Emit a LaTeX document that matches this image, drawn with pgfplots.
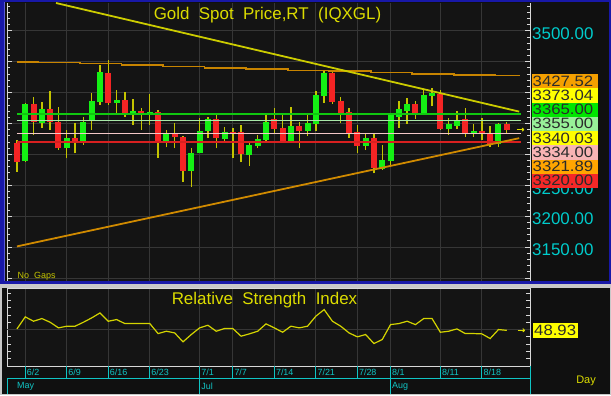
\documentclass[border=0pt]{standalone}
\usepackage{fontspec}
\setmainfont{Liberation Sans}
\usepackage{pgfplots}
\usepackage{pgfplotstable}
\pgfplotsset{compat=1.18}
\usetikzlibrary{arrows.meta}

\definecolor{bgc}{HTML}{101010}
\definecolor{plotbg}{HTML}{141414}
\definecolor{gridc}{HTML}{363636}
\definecolor{axw}{HTML}{D8D8D8}
\definecolor{wickc}{HTML}{C4C400}
\definecolor{upcol}{HTML}{14F014}
\definecolor{dncol}{HTML}{F42424}
\definecolor{hgreen}{HTML}{10C810}
\definecolor{hlgreen}{HTML}{A8E8A8}
\definecolor{hpink}{HTML}{F4C8C8}
\definecolor{hred}{HTML}{D82020}
\definecolor{trendy}{HTML}{CCCC00}
\definecolor{trendo}{HTML}{D08A00}
\definecolor{stepo}{HTML}{C88400}
\definecolor{tickcyan}{HTML}{00CCCC}
\definecolor{datecyan}{HTML}{10C4C4}
\definecolor{titley}{HTML}{DCDC00}
\definecolor{rsiy}{HTML}{D4D400}
\definecolor{frameblue}{HTML}{1818A8}
\definecolor{framelblue}{HTML}{5A5AD8}
\definecolor{bandgray}{HTML}{C8C8C8}
\definecolor{boxorange}{HTML}{F5A000}
\definecolor{boxyellow}{HTML}{FFFF00}
\definecolor{boxgreen}{HTML}{00E600}
\definecolor{boxlgreen}{HTML}{98F098}
\definecolor{boxpink}{HTML}{F8B4B4}
\definecolor{boxorangeb}{HTML}{FFA500}
\definecolor{boxred}{HTML}{F52828}
\definecolor{boxtext}{HTML}{2A2A2A}

% daily candles: index, open, high, low, close
\pgfplotstableread{
i o h l c
1 3289.3 3382.8 3288.3 3381.2
3 3351.5 3385.5 3343.4 3373.1
6 3309.8 3339.6 3293.6 3326.1
8 3320.6 3361.2 3315.2 3353.1
9 3354.1 3399.0 3339.6 3386.6
10 3385.5 3444.9 3380.1 3434.1
12 3382.8 3404.4 3363.9 3388.2
14 3367.6 3389.3 3347.7 3370.3
16 3366.6 3397.4 3347.7 3368.6
18 3320.6 3339.6 3311.5 3334.1
21 3273.1 3310.9 3247.7 3302.8
22 3301.7 3358.5 3301.7 3338.5
23 3338.0 3361.2 3326.1 3357.4
25 3325.0 3345.0 3320.6 3336.9
28 3299.0 3317.9 3281.8 3315.2
29 3313.6 3331.5 3309.8 3324.4
30 3323.4 3366.6 3320.6 3353.1
33 3322.3 3377.4 3320.6 3346.6
35 3338.0 3363.9 3330.4 3350.4
36 3349.3 3402.8 3338.0 3396.3
37 3395.2 3435.2 3382.8 3432.5
42 3314.2 3332.5 3307.1 3326.1
44 3276.4 3315.2 3274.7 3290.9
45 3289.3 3366.6 3282.9 3363.9
46 3361.2 3386.6 3343.4 3373.1
47 3370.9 3390.9 3348.8 3381.2
49 3366.6 3404.4 3363.9 3396.3
50 3395.2 3408.2 3379.0 3399.0
52 3341.2 3358.5 3331.5 3348.8
53 3346.1 3370.3 3341.2 3355.8
55 3334.7 3348.8 3328.7 3338.0
58 3316.3 3350.4 3312.5 3348.8
}\candleup

\pgfplotstableread{
i o h l c
0 3319.1 3323.4 3272.1 3288.3
2 3381.2 3393.6 3331.5 3353.1
4 3373.1 3402.8 3339.6 3353.1
5 3353.1 3377.4 3307.1 3309.8
7 3326.1 3350.4 3301.7 3320.6
11 3432.5 3453.0 3380.1 3382.8
13 3388.2 3400.6 3361.2 3366.6
15 3370.3 3374.7 3339.6 3367.1
17 3368.2 3372.0 3294.7 3320.6
19 3334.1 3350.4 3309.8 3327.7
20 3328.7 3330.0 3255.8 3273.1
24 3357.4 3366.6 3309.8 3326.1
26 3336.9 3343.4 3294.7 3334.7
27 3336.9 3347.7 3287.2 3300.1
31 3357.4 3375.8 3334.2 3341.2
32 3342.3 3366.6 3320.6 3322.3
34 3346.6 3353.1 3309.8 3338.0
38 3432.5 3436.8 3381.2 3385.5
39 3386.6 3393.6 3350.4 3367.6
40 3368.2 3374.7 3326.1 3334.1
41 3336.9 3347.7 3301.7 3314.2
43 3326.1 3332.5 3269.3 3278.5
48 3381.2 3386.6 3357.4 3366.6
51 3397.4 3404.4 3340.0 3341.2
54 3357.4 3374.7 3328.7 3332.5
56 3338.0 3358.5 3323.4 3332.5
57 3334.2 3346.1 3312.5 3316.3
59 3348.8 3353.1 3334.2 3340.0
}\candledn

\pgfplotstableread{
i r
0 50.9
1 67.4
2 61.4
3 65.1
4 60.0
5 52.3
6 54.6
7 54.6
8 60.0
9 66.0
10 72.8
11 61.4
12 63.7
13 58.2
14 58.2
15 58.2
16 58.2
17 44.5
18 47.7
19 45.4
20 33.1
21 43.2
22 52.3
23 55.9
24 47.7
25 51.4
26 51.4
27 40.9
28 44.1
29 47.7
30 57.8
31 52.3
32 46.3
33 54.6
34 52.3
35 54.6
36 68.3
37 77.4
38 61.4
39 54.6
40 45.4
41 40.0
42 43.2
43 30.8
44 36.3
45 56.8
46 58.2
47 61.4
48 56.8
49 65.1
50 65.1
51 46.3
52 47.7
53 50.9
54 44.5
55 44.5
56 44.1
57 37.7
58 50.0
59 48.9
}\rsidata

\begin{document}
\begin{tikzpicture}[x=1bp,y=1bp]
\useasboundingbox (0,0) rectangle (611,395);
\fill[bgc] (0,0) rectangle (611,395);

% ---------------- price panel ----------------
\begin{axis}[
  at={(7bp,114bp)}, anchor=south west, scale only axis,
  width=523bp, height=278bp,
  xmin=-1.2, xmax=61.8, ymin=3095, ymax=3545,
  axis background/.style={fill=plotbg},
  separate axis lines,
  x axis line style={draw=none},
  y axis line style={draw=axw, line width=0.8bp},
  xtick={1,6,11,16,22,26,31,36,41,45,51,56},
  xticklabels={}, xtick style={draw=none},
  ytick={3100,3150,...,3500},
  yticklabels={,3150.00,3200.00,3250.00,,,,,3500.00},
  minor ytick={3100,3110,...,3540},
  ytick pos=both, yticklabel pos=right, tick align=inside,
  major tick length=5bp, minor tick length=3bp,
  ytick style={draw=axw, line width=0.8bp},
  minor tick style={draw=axw, line width=0.7bp},
  yticklabel style={font=\fontsize{17}{17}\selectfont, text=tickcyan, anchor=west, inner sep=0pt, xshift=2bp, yshift=-3bp},
  xmajorgrids, ymajorgrids,
  major grid style={draw=gridc, line width=0.8bp},
]
% wicks
\addplot[draw=none, forget plot, error bars/.cd, y dir=plus, y explicit, error mark=none,
  error bar style={draw=wickc, line width=1.4bp}]
  table[x=i, y=l, y error expr=\thisrow{h}-\thisrow{l}] {\candleup};
\addplot[draw=none, forget plot, error bars/.cd, y dir=plus, y explicit, error mark=none,
  error bar style={draw=wickc, line width=1.4bp}]
  table[x=i, y=l, y error expr=\thisrow{h}-\thisrow{l}] {\candledn};
% bodies
\addplot[draw=none, forget plot, error bars/.cd, y dir=plus, y explicit, error mark=none,
  error bar style={draw=upcol, line width=6bp}]
  table[x=i, y expr={min(\thisrow{o},\thisrow{c})}, y error expr={abs(\thisrow{c}-\thisrow{o})}] {\candleup};
\addplot[draw=none, forget plot, error bars/.cd, y dir=plus, y explicit, error mark=none,
  error bar style={draw=dncol, line width=6bp}]
  table[x=i, y expr={min(\thisrow{o},\thisrow{c})}, y error expr={abs(\thisrow{c}-\thisrow{o})}] {\candledn};
% stepped long-term line
\addplot[stepo, line width=1.8bp, const plot] coordinates {
  (0,3450.0) (2.6,3448.6) (7.6,3447.0) (12.6,3444.6) (17.6,3442.1) (22.6,3439.5)
  (27.6,3437.9) (32.6,3435.7) (37.6,3434.3) (42.6,3432.6) (47.6,3430.6)
  (52.6,3428.9) (57.6,3427.5) (60.6,3427.5)};
% horizontal levels
\addplot[hgreen, line width=1.8bp] coordinates {(0,3365) (60.7,3365)};
\addplot[hlgreen, line width=1.3bp] coordinates {(0,3355) (60.7,3355)};
\addplot[hpink, line width=1.3bp] coordinates {(0,3334) (60.7,3334)};
\addplot[hred, line width=1.5bp] coordinates {(0,3320) (60.7,3320)};
% trend lines
\addplot[trendy, line width=1.8bp] coordinates {(4.7,3545) (60.5,3369.2)};
\addplot[trendo, line width=1.8bp] coordinates {(0,3151) (60.5,3326.2)};
% last price arrow
\draw[titley, line width=1bp, -{To[length=2.5bp,width=4bp]}] (axis cs:60.2,3340) -- (axis cs:61.1,3340);
\end{axis}

% ---------------- RSI panel ----------------
\begin{axis}[
  at={(7bp,29bp)}, anchor=south west, scale only axis,
  width=523bp, height=78bp,
  xmin=-1.2, xmax=61.8, ymin=0, ymax=107,
  axis background/.style={fill=plotbg},
  axis line style={draw=axw, line width=0.8bp},
  xtick={1,6,11,16,22,26,31,36,41,45,51,56},
  xticklabels={6/2,6/9,6/16,6/23,7/1,7/7,7/14,7/21,7/28,8/1,8/11,8/18},
  xtick style={draw=none},
  xticklabel style={anchor=north west, font=\fontsize{9}{9}\selectfont, text=datecyan, inner sep=1bp, yshift=-2bp, xshift=0.5bp},
  ytick={0,10,...,100}, yticklabels={},
  ytick pos=both, tick align=inside, major tick length=4bp,
  ytick style={draw=axw, line width=0.8bp},
  xmajorgrids, major grid style={draw=gridc, line width=0.8bp},
  clip=false,
]
\addplot[gridc, line width=0.8bp] coordinates {(-1.2,50) (61.8,50)};
\addplot[rsiy, line width=1.2bp] table[x=i, y=r] {\rsidata};
\draw[titley, line width=1bp, -{To[length=2.5bp,width=4bp]}] (axis cs:60.3,49) -- (axis cs:61.2,49);
% date row
\pgfplotsinvokeforeach{1,6,11,16,22,26,31,36,41,45,51,56}{
  \draw[datecyan, line width=1bp] (axis cs:#1,0) -- ++(0bp,-12bp);
}
\draw[datecyan, line width=1bp] (rel axis cs:0,0) ++(0bp,-12bp) -- ++(523bp,0bp);
\draw[datecyan, line width=1bp] (rel axis cs:0,0) ++(0.5bp,-12bp) -- ++(0bp,-17bp);
\draw[datecyan, line width=1bp] (axis cs:22,0) ++(0bp,-12bp) -- ++(0bp,-17bp);
\draw[datecyan, line width=1bp] (axis cs:45,0) ++(0bp,-12bp) -- ++(0bp,-17bp);
\draw[datecyan, line width=1bp] (rel axis cs:1,0) -- ++(0bp,-29bp);
\node[anchor=west, text=datecyan, font=\fontsize{9}{9}\selectfont, inner sep=0pt] at ([xshift=10bp,yshift=-20bp]rel axis cs:0,0) {May};
\node[anchor=west, text=datecyan, font=\fontsize{9}{9}\selectfont, inner sep=0pt] at ([xshift=1.5bp,yshift=-20bp]axis cs:22,0) {Jul};
\node[anchor=west, text=datecyan, font=\fontsize{9}{9}\selectfont, inner sep=0pt] at ([xshift=1.5bp,yshift=-20bp]axis cs:45,0) {Aug};
\end{axis}

% ---------------- frames and labels ----------------
\fill[frameblue] (0,395) rectangle (611,393);
\fill[frameblue] (0,111) rectangle (5,395);
\fill[framelblue] (3.5,111) rectangle (4.5,393);
\fill[frameblue] (608.5,111) rectangle (611,395);
\fill[frameblue] (0,111) rectangle (611,114);
\fill[bandgray] (0,107.5) rectangle (611,111);
\fill[bandgray] (0,0) rectangle (1.5,107.5);
\fill[bandgray] (609.5,0) rectangle (611,107.5);
\fill[bandgray] (0,0) rectangle (611,1.5);

\node[text=titley, font=\fontsize{17}{17}\selectfont] at (267.5,380) {Gold\ \ Spot\ \ Price,RT\ \ (IQXGL)};
\node[text=titley, font=\fontsize{17}{17}\selectfont] at (264.5,95) {Relative\ \ Strength\ \ Index};
\node[anchor=west, text=wickc, font=\fontsize{9}{9}\selectfont, inner sep=0pt] at (17.5,119) {No\ \ Gaps};
\node[text=titley, font=\fontsize{11}{11}\selectfont] at (586,14) {Day};

% price label boxes
\foreach \k/\col/\txt in {0/boxorange/3427.52, 1/boxyellow/3373.04, 2/boxgreen/3365.00, 3/boxlgreen/3355.00,
  4/boxyellow/3340.03, 5/boxpink/3334.00, 6/boxorangeb/3321.89, 7/boxred/3320.00}{
  \fill[\col] (531.5,{321-14.25*\k}) rectangle (598,{306.75-14.25*\k});
  \node[anchor=west, text=boxtext, font=\fontsize{15}{15}\selectfont, inner sep=0pt, xscale=1.12] at (532.5,{313.9-14.25*\k}) {\txt};
}
% RSI value box
\fill[boxyellow] (533,57.5) rectangle (578,72.5);
\node[anchor=west, text=boxtext, font=\fontsize{15}{15}\selectfont, inner sep=0pt, xscale=1.12] at (534,65) {48.93};
\end{tikzpicture}
\end{document}
